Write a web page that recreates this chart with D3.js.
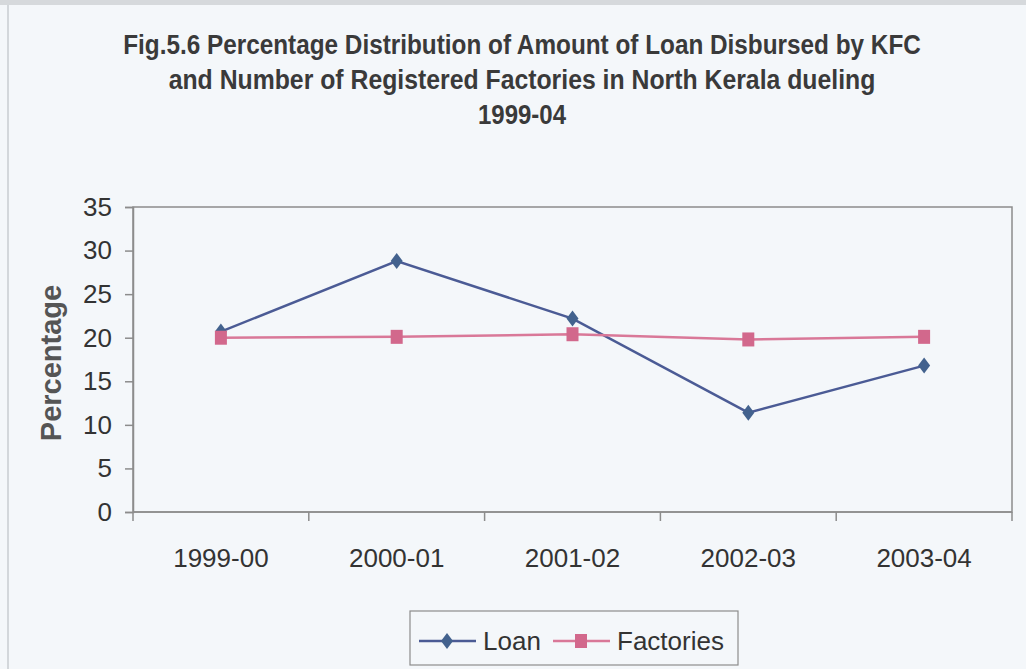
<!DOCTYPE html>
<html>
<head>
<meta charset="utf-8">
<script src="https://cdn.jsdelivr.net/npm/d3@7"></script>
<style>
  html, body { margin: 0; padding: 0; background: #f4f7fa; }
  svg { display: block; }
</style>
</head>
<body>
<div id="chart"></div>
<script>
// data
var years = ["1999-00", "2000-01", "2001-02", "2002-03", "2003-04"];
var loan = [20.7, 28.8, 22.2, 11.4, 16.8];
var factories = [20.0, 20.1, 20.4, 19.8, 20.1];
var yTicks = [0, 5, 10, 15, 20, 25, 30, 35];
var titleLines = [
    "Fig.5.6 Percentage Distribution of Amount of Loan Disbursed by KFC",
    "and Number of Registered  Factories in North Kerala dueling",
    "1999-04"
];
// measured widths of the narrow title lines
var titleWidths = [798, 707, 88];

var W = 1026, H = 669;
var plot = {left: 133, right: 1012, top: 207, bottom: 512};

var svg = d3.select("#chart").append("svg")
    .attr("width", W)
    .attr("height", H);

// page background + frame
svg.append("rect")
    .attr("x", 0).attr("y", 0)
    .attr("width", W).attr("height", H)
    .attr("fill", "#f4f7fa");
svg.append("rect")
    .attr("x", 0).attr("y", 0)
    .attr("width", W).attr("height", 5)
    .attr("fill", "#d6d9dc");
svg.append("line")
    .attr("x1", 8).attr("x2", 8)
    .attr("y1", 5).attr("y2", H)
    .attr("stroke", "#c9cdd1")
    .attr("stroke-width", 1.5);

var x = d3.scaleBand()
    .domain(years)
    .range([plot.left, plot.right])
    .padding(0);

var y = d3.scaleLinear()
    .domain([0, 35])
    .range([plot.bottom, plot.top]);

function cx(d, i) { return x(years[i]) + x.bandwidth() / 2; }

// title: Arial Narrow look, bold text squeezed horizontally to the measured widths
var titleRows = svg.append("g")
    .selectAll("g")
    .data(titleLines)
    .enter()
    .append("g");
titleRows.append("text")
    .attr("text-anchor", "middle")
    .attr("font-family", "'Liberation Sans', Arial, sans-serif")
    .attr("font-weight", "bold")
    .attr("font-size", 28)
    .attr("fill", "#3a3a3a")
    .text(function(d) { return d; });
titleRows.attr("transform", function(d, i) {
    var w = this.querySelector("text").getComputedTextLength();
    var k = titleWidths[i] / w;
    return "translate(522," + (54 + i * 35) + ") scale(" + k + ",1)";
});

// plot box
svg.append("rect")
    .attr("x", plot.left).attr("y", plot.top)
    .attr("width", plot.right - plot.left)
    .attr("height", plot.bottom - plot.top)
    .attr("fill", "none")
    .attr("stroke", "#8c8c8c")
    .attr("stroke-width", 1.5);

// y axis
var yAxis = svg.append("g")
    .attr("transform", "translate(" + plot.left + ",0)")
    .call(d3.axisLeft(y).tickValues(yTicks).tickSize(8).tickPadding(13));
yAxis.select(".domain").attr("stroke", "#8c8c8c").attr("stroke-width", 1.5);
yAxis.selectAll(".tick line").attr("stroke", "#8c8c8c").attr("stroke-width", 1.5);
yAxis.selectAll("text")
    .attr("font-family", "'Liberation Sans', Arial, sans-serif")
    .attr("font-size", 26)
    .attr("fill", "#333");

// x axis: ticks on the band edges, labels at centres
var xAxis = svg.append("g")
    .attr("transform", "translate(0," + plot.bottom + ")");
xAxis.append("line")
    .attr("x1", plot.left).attr("x2", plot.right)
    .attr("stroke", "#8c8c8c").attr("stroke-width", 1.5);
xAxis.selectAll("line.tick")
    .data(years.concat(["end"]))
    .enter()
    .append("line")
    .attr("class", "tick")
    .attr("x1", function(d, i) { return plot.left + i * x.bandwidth(); })
    .attr("x2", function(d, i) { return plot.left + i * x.bandwidth(); })
    .attr("y1", 0).attr("y2", 9)
    .attr("stroke", "#8c8c8c").attr("stroke-width", 1.5);
xAxis.selectAll("text")
    .data(years)
    .enter()
    .append("text")
    .attr("x", cx)
    .attr("y", 55)
    .attr("text-anchor", "middle")
    .attr("font-family", "'Liberation Sans', Arial, sans-serif")
    .attr("font-size", 26)
    .attr("fill", "#333")
    .text(function(d) { return d; });

// y axis title
svg.append("text")
    .attr("transform", "translate(61,363) rotate(-90)")
    .attr("text-anchor", "middle")
    .attr("font-family", "'Liberation Sans', Arial, sans-serif")
    .attr("font-weight", "bold")
    .attr("font-size", 29)
    .attr("fill", "#555")
    .text("Percentage");

var line = d3.line()
    .x(function(d, i) { return cx(d, i); })
    .y(function(d) { return y(d); });

var loanColor = "#4b5b95", loanMark = "#43628e";
var factColor = "#d97898", factMark = "#d2688c";
var diamond = "M0,-8L6,0L0,8L-6,0Z";

// Loan series (drawn first, Factories sits on top as in the original)
svg.append("path")
    .datum(loan)
    .attr("d", line)
    .attr("fill", "none")
    .attr("stroke", loanColor)
    .attr("stroke-width", 2.5);
svg.append("g")
    .selectAll("path")
    .data(loan)
    .enter()
    .append("path")
    .attr("d", diamond)
    .attr("transform", function(d, i) { return "translate(" + cx(d, i) + "," + y(d) + ")"; })
    .attr("fill", loanMark);

// Factories series
svg.append("path")
    .datum(factories)
    .attr("d", line)
    .attr("fill", "none")
    .attr("stroke", factColor)
    .attr("stroke-width", 2.5);
svg.append("g")
    .selectAll("rect")
    .data(factories)
    .enter()
    .append("rect")
    .attr("x", function(d, i) { return cx(d, i) - 6; })
    .attr("y", function(d) { return y(d) - 7; })
    .attr("width", 12)
    .attr("height", 14)
    .attr("fill", factMark);

// legend
var legend = svg.append("g");
legend.append("rect")
    .attr("x", 410).attr("y", 611)
    .attr("width", 328).attr("height", 54)
    .attr("fill", "none")
    .attr("stroke", "#8c8c8c")
    .attr("stroke-width", 1.2);

var legendItems = [
    {name: "Loan", color: loanColor, mark: loanMark, x: 419, shape: "diamond"},
    {name: "Factories", color: factColor, mark: factMark, x: 553, shape: "square"}
];
var li = legend.selectAll("g.item")
    .data(legendItems)
    .enter()
    .append("g")
    .attr("class", "item")
    .attr("transform", function(d) { return "translate(" + d.x + ",641)"; });
li.append("line")
    .attr("x1", 0).attr("x2", 57)
    .attr("stroke", function(d) { return d.color; })
    .attr("stroke-width", 2.5);
li.each(function(d) {
    var g = d3.select(this);
    if (d.shape === "diamond") {
        g.append("path").attr("d", diamond)
            .attr("transform", "translate(28,0)")
            .attr("fill", d.mark);
    } else {
        g.append("rect")
            .attr("x", 22).attr("y", -7)
            .attr("width", 12).attr("height", 14)
            .attr("fill", d.mark);
    }
});
li.append("text")
    .attr("x", 64)
    .attr("y", 9)
    .attr("font-family", "'Liberation Sans', Arial, sans-serif")
    .attr("font-size", 26)
    .attr("fill", "#333")
    .text(function(d) { return d.name; });
</script>
</body>
</html>
